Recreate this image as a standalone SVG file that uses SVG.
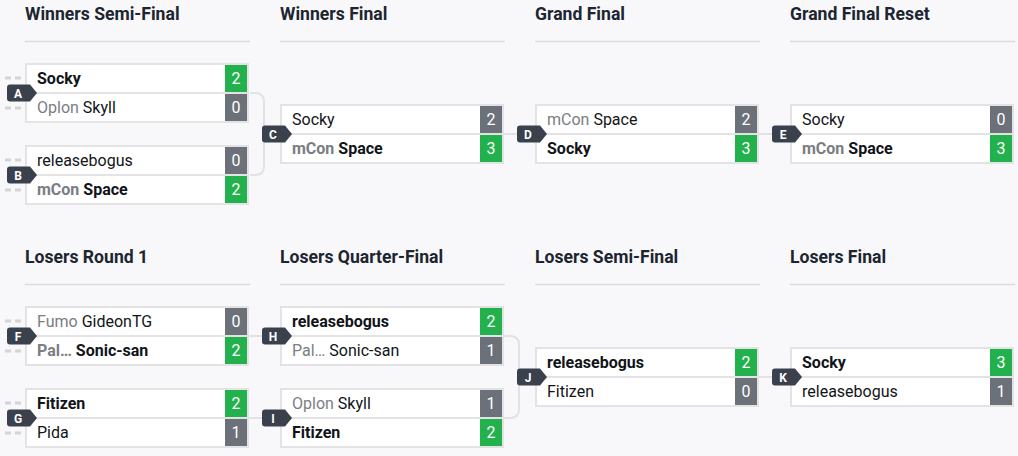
<svg xmlns="http://www.w3.org/2000/svg" width="1018" height="456" viewBox="0 0 1018 456">
<defs>
<style>
.bg{fill:#f8f8fa}
.hdr{font-family:Roboto,"Liberation Sans",sans-serif;font-size:17.6px;font-weight:700;fill:#1c2530}
.div{stroke:#dcdcdf;stroke-width:1.5}
.box{fill:#ffffff;stroke:#e3e3e5;stroke-width:2}
.sep{stroke:#e3e3e5;stroke-width:2}
.win{fill:#22b14c}
.los{fill:#6b7079}
.t{font-family:Roboto,"Liberation Sans",sans-serif;font-size:16px;fill:#111418}
.b{font-weight:700}
.org{fill:#7a7d82}
.sc{font-family:Roboto,"Liberation Sans",sans-serif;font-size:16px;fill:#ffffff;text-anchor:middle}
.badge{fill:#3a414d}
.bt{font-family:Roboto,"Liberation Sans",sans-serif;font-size:12px;font-weight:700;fill:#ffffff;text-anchor:middle}
.stub{stroke:#d4d4d8;stroke-width:3;stroke-dasharray:6 4}
.conn{fill:none;stroke:#e2e2e5;stroke-width:2}
</style>
<path id="bdg" class="badge" d="M-15,21.5 H5 L12,30 L5,38.5 H-15 Q-18,38.5 -18,35.5 V24.5 Q-18,21.5 -15,21.5 Z"/>
<g id="frame">
<rect class="box" x="1" y="1" width="222" height="58"/>
<line class="sep" x1="0" y1="30" x2="224" y2="30"/>
</g>
</defs>
<rect class="bg" x="0" y="0" width="1018" height="456"/>

<g id="headers">
<text class="hdr" x="25" y="20">Winners Semi-Final</text>
<text class="hdr" x="280" y="20">Winners Final</text>
<text class="hdr" x="535" y="20">Grand Final</text>
<text class="hdr" x="790" y="20">Grand Final Reset</text>
<line class="div" x1="25" y1="41.5" x2="250" y2="41.5"/>
<line class="div" x1="280" y1="41.5" x2="505" y2="41.5"/>
<line class="div" x1="535" y1="41.5" x2="760" y2="41.5"/>
<line class="div" x1="790" y1="41.5" x2="1015" y2="41.5"/>
<text class="hdr" x="25" y="263">Losers Round 1</text>
<text class="hdr" x="280" y="263">Losers Quarter-Final</text>
<text class="hdr" x="535" y="263">Losers Semi-Final</text>
<text class="hdr" x="790" y="263">Losers Final</text>
<line class="div" x1="25" y1="284.5" x2="250" y2="284.5"/>
<line class="div" x1="280" y1="284.5" x2="505" y2="284.5"/>
<line class="div" x1="535" y1="284.5" x2="760" y2="284.5"/>
<line class="div" x1="790" y1="284.5" x2="1015" y2="284.5"/>
</g>

<g id="connectors">
<path class="conn" d="M250,93 H255 Q264,93 264,102 V166 Q264,175 255,175 H250"/>
<path class="conn" d="M264,134 H280"/>
<path class="conn" d="M504,134 H535"/>
<path class="conn" d="M759,134 H790"/>
<path class="conn" d="M249,336 H280"/>
<path class="conn" d="M249,418 H280"/>
<path class="conn" d="M504,336 H510 Q519,336 519,345 V409 Q519,418 510,418 H504"/>
<path class="conn" d="M519,377 H535"/>
<path class="conn" d="M759,377 H790"/>
<line class="stub" x1="5" y1="78" x2="22" y2="78"/>
<line class="stub" x1="5" y1="108" x2="22" y2="108"/>
<line class="stub" x1="5" y1="160" x2="22" y2="160"/>
<line class="stub" x1="5" y1="190" x2="22" y2="190"/>
<line class="stub" x1="5" y1="321" x2="22" y2="321"/>
<line class="stub" x1="5" y1="351" x2="22" y2="351"/>
<line class="stub" x1="5" y1="403" x2="22" y2="403"/>
<line class="stub" x1="5" y1="433" x2="22" y2="433"/>
</g>

<g id="match-A" transform="translate(25,63)">
<use href="#frame"/>
<rect class="win" x="200" y="2" width="22" height="27"/>
<rect class="los" x="200" y="31" width="22" height="27"/>
<text class="t b" x="12" y="21">Socky</text>
<text class="t" x="12" y="50"><tspan class="org">Oplon</tspan> Skyll</text>
<text class="sc" x="211" y="21">2</text>
<text class="sc" x="211" y="50">0</text>
<use href="#bdg"/><text class="bt" x="-7" y="34.5">A</text>
</g>

<g id="match-B" transform="translate(25,145)">
<use href="#frame"/>
<rect class="los" x="200" y="2" width="22" height="27"/>
<rect class="win" x="200" y="31" width="22" height="27"/>
<text class="t" x="12" y="21">releasebogus</text>
<text class="t b" x="12" y="50"><tspan class="org">mCon</tspan> Space</text>
<text class="sc" x="211" y="21">0</text>
<text class="sc" x="211" y="50">2</text>
<use href="#bdg"/><text class="bt" x="-7" y="34.5">B</text>
</g>

<g id="match-C" transform="translate(280,104)">
<use href="#frame"/>
<rect class="los" x="200" y="2" width="22" height="27"/>
<rect class="win" x="200" y="31" width="22" height="27"/>
<text class="t" x="12" y="21">Socky</text>
<text class="t b" x="12" y="50"><tspan class="org">mCon</tspan> Space</text>
<text class="sc" x="211" y="21">2</text>
<text class="sc" x="211" y="50">3</text>
<use href="#bdg"/><text class="bt" x="-7" y="34.5">C</text>
</g>

<g id="match-D" transform="translate(535,104)">
<use href="#frame"/>
<rect class="los" x="200" y="2" width="22" height="27"/>
<rect class="win" x="200" y="31" width="22" height="27"/>
<text class="t" x="12" y="21"><tspan class="org">mCon</tspan> Space</text>
<text class="t b" x="12" y="50">Socky</text>
<text class="sc" x="211" y="21">2</text>
<text class="sc" x="211" y="50">3</text>
<use href="#bdg"/><text class="bt" x="-7" y="34.5">D</text>
</g>

<g id="match-E" transform="translate(790,104)">
<use href="#frame"/>
<rect class="los" x="200" y="2" width="22" height="27"/>
<rect class="win" x="200" y="31" width="22" height="27"/>
<text class="t" x="12" y="21">Socky</text>
<text class="t b" x="12" y="50"><tspan class="org">mCon</tspan> Space</text>
<text class="sc" x="211" y="21">0</text>
<text class="sc" x="211" y="50">3</text>
<use href="#bdg"/><text class="bt" x="-7" y="34.5">E</text>
</g>

<g id="match-F" transform="translate(25,306)">
<use href="#frame"/>
<rect class="los" x="200" y="2" width="22" height="27"/>
<rect class="win" x="200" y="31" width="22" height="27"/>
<text class="t" x="12" y="21"><tspan class="org">Fumo</tspan> GideonTG</text>
<text class="t b" x="12" y="50"><tspan class="org">Pal…</tspan> Sonic-san</text>
<text class="sc" x="211" y="21">0</text>
<text class="sc" x="211" y="50">2</text>
<use href="#bdg"/><text class="bt" x="-7" y="34.5">F</text>
</g>

<g id="match-G" transform="translate(25,388)">
<use href="#frame"/>
<rect class="win" x="200" y="2" width="22" height="27"/>
<rect class="los" x="200" y="31" width="22" height="27"/>
<text class="t b" x="12" y="21">Fitizen</text>
<text class="t" x="12" y="50">Pida</text>
<text class="sc" x="211" y="21">2</text>
<text class="sc" x="211" y="50">1</text>
<use href="#bdg"/><text class="bt" x="-7" y="34.5">G</text>
</g>

<g id="match-H" transform="translate(280,306)">
<use href="#frame"/>
<rect class="win" x="200" y="2" width="22" height="27"/>
<rect class="los" x="200" y="31" width="22" height="27"/>
<text class="t b" x="12" y="21">releasebogus</text>
<text class="t" x="12" y="50"><tspan class="org">Pal…</tspan> Sonic-san</text>
<text class="sc" x="211" y="21">2</text>
<text class="sc" x="211" y="50">1</text>
<use href="#bdg"/><text class="bt" x="-7" y="34.5">H</text>
</g>

<g id="match-I" transform="translate(280,388)">
<use href="#frame"/>
<rect class="los" x="200" y="2" width="22" height="27"/>
<rect class="win" x="200" y="31" width="22" height="27"/>
<text class="t" x="12" y="21"><tspan class="org">Oplon</tspan> Skyll</text>
<text class="t b" x="12" y="50">Fitizen</text>
<text class="sc" x="211" y="21">1</text>
<text class="sc" x="211" y="50">2</text>
<use href="#bdg"/><text class="bt" x="-7" y="34.5">I</text>
</g>

<g id="match-J" transform="translate(535,347)">
<use href="#frame"/>
<rect class="win" x="200" y="2" width="22" height="27"/>
<rect class="los" x="200" y="31" width="22" height="27"/>
<text class="t b" x="12" y="21">releasebogus</text>
<text class="t" x="12" y="50">Fitizen</text>
<text class="sc" x="211" y="21">2</text>
<text class="sc" x="211" y="50">0</text>
<use href="#bdg"/><text class="bt" x="-7" y="34.5">J</text>
</g>

<g id="match-K" transform="translate(790,347)">
<use href="#frame"/>
<rect class="win" x="200" y="2" width="22" height="27"/>
<rect class="los" x="200" y="31" width="22" height="27"/>
<text class="t b" x="12" y="21">Socky</text>
<text class="t" x="12" y="50">releasebogus</text>
<text class="sc" x="211" y="21">3</text>
<text class="sc" x="211" y="50">1</text>
<use href="#bdg"/><text class="bt" x="-7" y="34.5">K</text>
</g>
</svg>
